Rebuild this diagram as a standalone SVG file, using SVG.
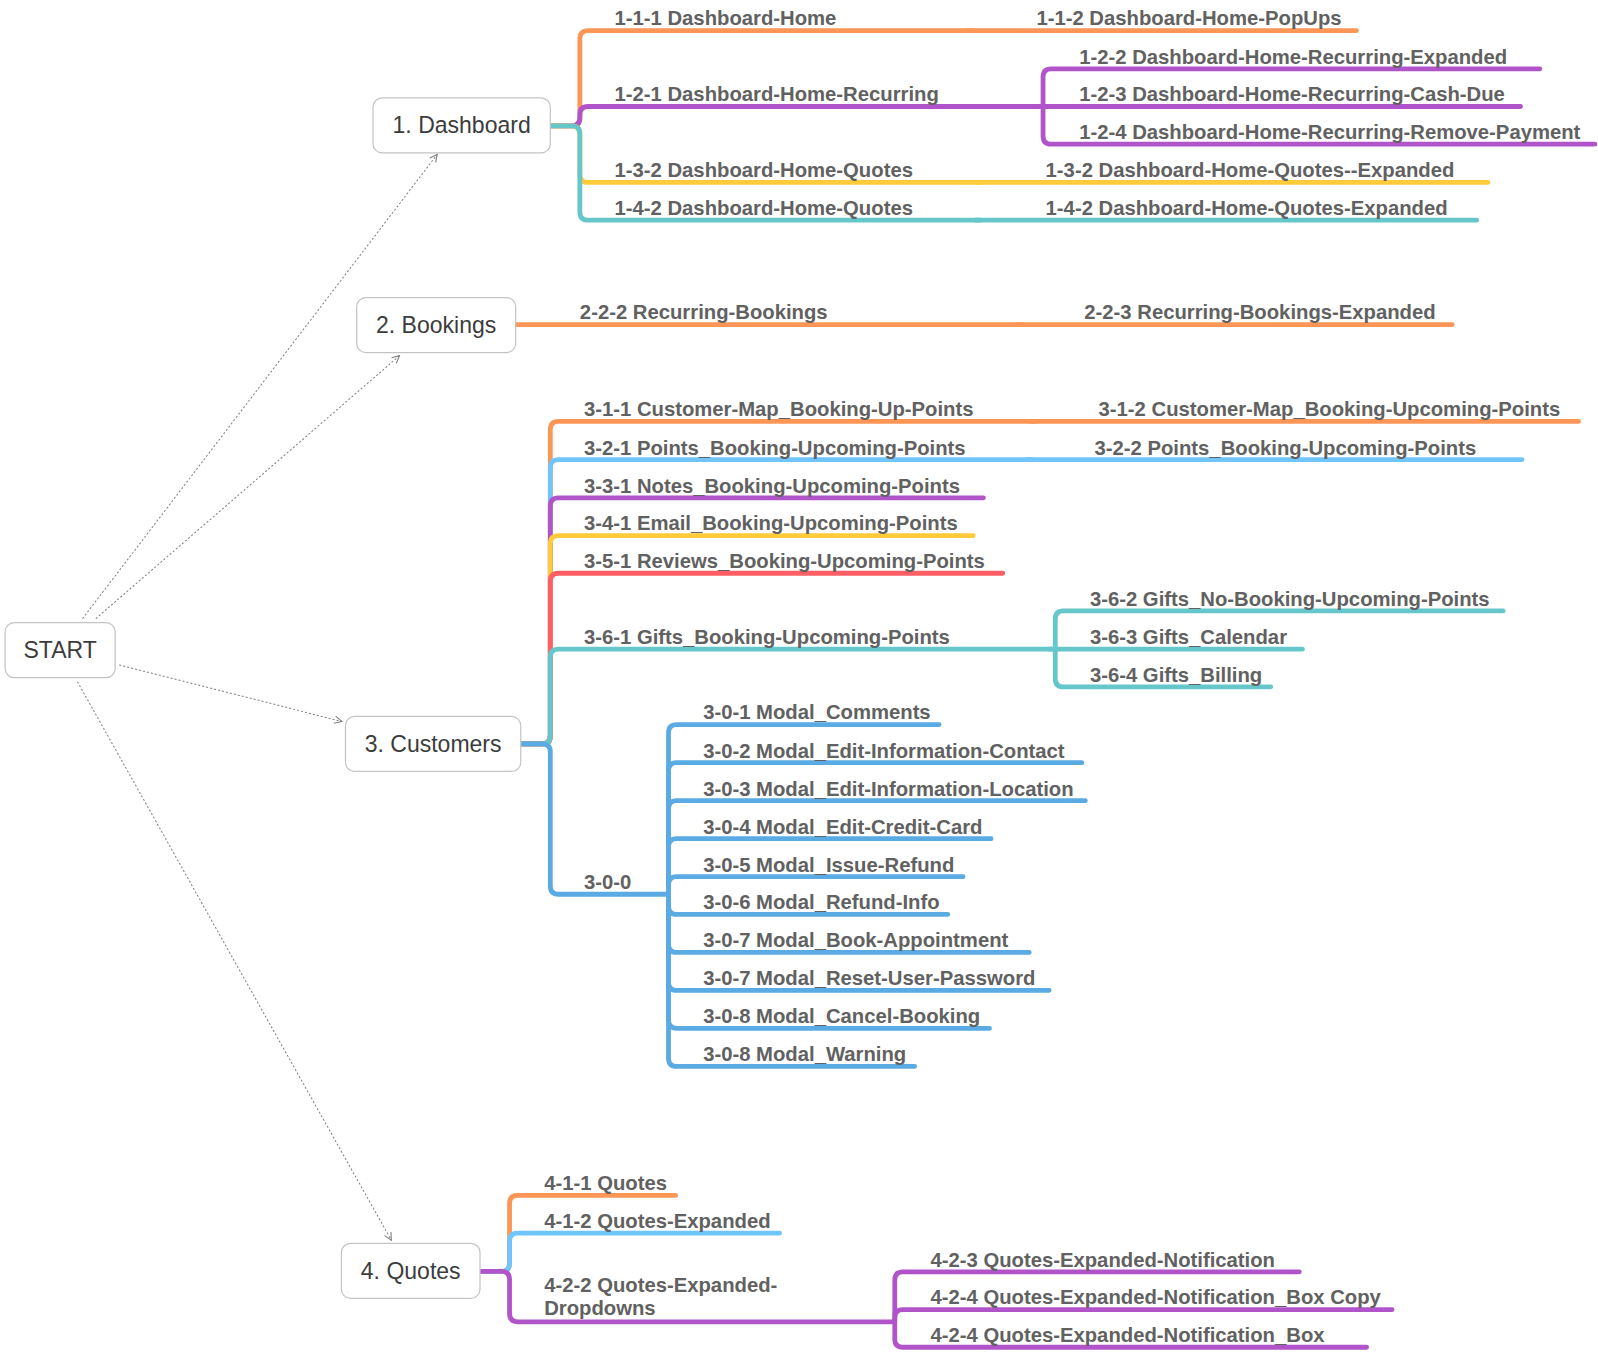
<svg xmlns="http://www.w3.org/2000/svg" width="1598" height="1352" viewBox="0 0 1598 1352">
  <defs>
    <style>
      .node rect { fill: #ffffff; stroke: #c4c4c4; stroke-width: 1.2; }
      .node text { font-family: "Liberation Sans", Arial, sans-serif; font-size: 22.6px; fill: #3c3c3c; text-anchor: middle; dominant-baseline: central; }
      .lbl { font-family: "Liberation Sans", Arial, sans-serif; font-size: 19.9px; font-weight: bold; fill: #616161; }
      .br path { fill: none; stroke-width: 4.7; stroke-linecap: round; stroke-linejoin: round; }
      .or { stroke: #FC9657; }
      .pu { stroke: #B154CA; }
      .ye { stroke: #FFCB3A; }
      .te { stroke: #66C7CB; }
      .lb { stroke: #70C5FD; }
      .re { stroke: #FE5F66; }
      .bl { stroke: #5AAAE3; }
      .dot { fill: none; stroke: #808080; stroke-width: 1; stroke-dasharray: 2 2; }
    </style>
    <marker id="open" viewBox="0 0 10 10" refX="9" refY="5" markerWidth="9" markerHeight="9" markerUnits="userSpaceOnUse" orient="auto">
      <path d="M1,1 L9,5 L1,9" fill="none" stroke="#808080" stroke-width="1.2"/>
    </marker>
  </defs>
  <rect width="1598" height="1352" fill="#ffffff"/>
  <g transform="scale(1.0191)">
    <!-- dotted links from START -->
    <g id="connectors">
      <path class="dot" d="M81,607 L429,151.5" marker-end="url(#open)"/>
      <path class="dot" d="M94,607 L392,349" marker-end="url(#open)"/>
      <path class="dot" d="M117,652.5 L335.5,708" marker-end="url(#open)"/>
      <path class="dot" d="M76,669 L384,1217" marker-end="url(#open)"/>
    </g>

    <!-- 1. Dashboard branches -->
    <g id="dashboard-branches" class="br">
      <path class="or" d="M540,123.5 H561 Q569,123.5 569,115.5 V38 Q569,30 577,30 H955"/>
      <path class="or" d="M950,30 H1331"/>
      <path class="pu" d="M540,123.5 H561 Q569,123.5 569,115.5 V112.5 Q569,104.5 577,104.5 H1023.5"/>
      <path class="pu" d="M1023.5,104.5 V75.5 Q1023.5,67.5 1031.5,67.5 H1511"/>
      <path class="pu" d="M1017,104.5 H1492"/>
      <path class="pu" d="M1023.5,104.5 V133.5 Q1023.5,141.5 1031.5,141.5 H1565"/>
      <path class="ye" d="M540,123.5 H561 Q569,123.5 569,131.5 V171 Q569,179 577,179 H963"/>
      <path class="ye" d="M958,179 H1460"/>
      <path class="te" d="M540,123.5 H561 Q569,123.5 569,131.5 V208 Q569,216 577,216 H962"/>
      <path class="te" d="M957,216 H1449"/>
    </g>

    <!-- 2. Bookings branches -->
    <g id="bookings-branches" class="br">
      <path class="or" d="M506,318.5 H1003"/>
      <path class="or" d="M998,318.5 H1425"/>
    </g>

    <!-- 3. Customers branches -->
    <g id="customers-branches" class="br">
      <path class="or" d="M511,730 H532 Q540,730 540,722 V421.5 Q540,413.5 548,413.5 H1016"/>
      <path class="or" d="M1011,413.5 H1549"/>
      <path class="lb" d="M511,730 H532 Q540,730 540,722 V459 Q540,451 548,451 H1012.5"/>
      <path class="lb" d="M1008,451 H1493.5"/>
      <path class="pu" d="M511,730 H532 Q540,730 540,722 V496.5 Q540,488.5 548,488.5 H965"/>
      <path class="ye" d="M511,730 H532 Q540,730 540,722 V533.5 Q540,525.5 548,525.5 H955"/>
      <path class="re" d="M511,730 H532 Q540,730 540,722 V570.5 Q540,562.5 548,562.5 H984"/>
      <path class="te" d="M511,730 H532 Q540,730 540,722 V645 Q540,637 548,637 H1035.5"/>
      <path class="te" d="M1035.5,637 V607.5 Q1035.5,599.5 1043.5,599.5 H1475"/>
      <path class="te" d="M1029,637 H1278"/>
      <path class="te" d="M1035.5,637 V666 Q1035.5,674 1043.5,674 H1247"/>
      <path class="bl" d="M511,730 H532 Q540,730 540,738 V869.5 Q540,877.5 548,877.5 H656"/>
      <path class="bl" d="M656,877.5 V719 Q656,711 664,711 H921.5"/>
      <path class="bl" d="M656,877.5 V756.4 Q656,748.4 664,748.4 H1061.5"/>
      <path class="bl" d="M656,877.5 V793.7 Q656,785.7 664,785.7 H1065"/>
      <path class="bl" d="M656,877.5 V831 Q656,823 664,823 H972.5"/>
      <path class="bl" d="M656,877.5 V868.2 Q656,860.2 664,860.2 H945"/>
      <path class="bl" d="M656,877.5 V889.3 Q656,897.3 664,897.3 H930"/>
      <path class="bl" d="M656,877.5 V926.6 Q656,934.6 664,934.6 H1010"/>
      <path class="bl" d="M656,877.5 V963.8 Q656,971.8 664,971.8 H1029.5"/>
      <path class="bl" d="M656,877.5 V1001 Q656,1009 664,1009 H971"/>
      <path class="bl" d="M656,877.5 V1038.3 Q656,1046.3 664,1046.3 H897.5"/>
    </g>

    <!-- 4. Quotes branches -->
    <g id="quotes-branches" class="br">
      <path class="or" d="M471,1247.5 H492 Q500,1247.5 500,1239.5 V1181 Q500,1173 508,1173 H663"/>
      <path class="lb" d="M471,1247.5 H492 Q500,1247.5 500,1239.5 V1218 Q500,1210 508,1210 H765"/>
      <path class="pu" d="M471,1247.5 H492 Q500,1247.5 500,1255.5 V1289 Q500,1297 508,1297 H878"/>
      <path class="pu" d="M878,1297 V1256 Q878,1248 886,1248 H1275"/>
      <path class="pu" d="M878,1297 V1293 Q878,1285 886,1285 H1366"/>
      <path class="pu" d="M878,1297 V1314 Q878,1322 886,1322 H1341"/>
    </g>

    <!-- main nodes -->
    <g id="node-start" class="node">
      <rect x="5" y="611" width="108" height="54" rx="9"/>
      <text x="59" y="638">START</text>
    </g>
    <g id="node-dashboard" class="node">
      <rect x="366" y="96" width="174" height="54" rx="9"/>
      <text x="453" y="123">1. Dashboard</text>
    </g>
    <g id="node-bookings" class="node">
      <rect x="350" y="292" width="156" height="54" rx="9"/>
      <text x="428" y="319">2. Bookings</text>
    </g>
    <g id="node-customers" class="node">
      <rect x="339" y="703" width="172" height="54" rx="9"/>
      <text x="425" y="730">3. Customers</text>
    </g>
    <g id="node-quotes" class="node">
      <rect x="335" y="1220" width="136" height="54" rx="9"/>
      <text x="403" y="1247">4. Quotes</text>
    </g>

    <!-- topic labels -->
    <g id="labels-dashboard" class="lbl">
      <text id="t-1-1-1" x="603" y="25">1-1-1 Dashboard-Home</text>
      <text id="t-1-1-2" x="1017" y="25">1-1-2 Dashboard-Home-PopUps</text>
      <text id="t-1-2-1" x="603" y="99.5">1-2-1 Dashboard-Home-Recurring</text>
      <text id="t-1-2-2" x="1059" y="62.5">1-2-2 Dashboard-Home-Recurring-Expanded</text>
      <text id="t-1-2-3" x="1059" y="99.5">1-2-3 Dashboard-Home-Recurring-Cash-Due</text>
      <text id="t-1-2-4" x="1059" y="136.5">1-2-4 Dashboard-Home-Recurring-Remove-Payment</text>
      <text id="t-1-3-2" x="603" y="174">1-3-2 Dashboard-Home-Quotes</text>
      <text id="t-1-3-2e" x="1026" y="174">1-3-2 Dashboard-Home-Quotes--Expanded</text>
      <text id="t-1-4-2" x="603" y="211">1-4-2 Dashboard-Home-Quotes</text>
      <text id="t-1-4-2e" x="1026" y="211">1-4-2 Dashboard-Home-Quotes-Expanded</text>
    </g>
    <g id="labels-bookings" class="lbl">
      <text id="t-2-2-2" x="569" y="313.5">2-2-2 Recurring-Bookings</text>
      <text id="t-2-2-3" x="1064" y="313.5">2-2-3 Recurring-Bookings-Expanded</text>
    </g>
    <g id="labels-customers" class="lbl">
      <text id="t-3-1-1" x="573" y="408.5">3-1-1 Customer-Map_Booking-Up-Points</text>
      <text id="t-3-1-2" x="1078" y="408.5">3-1-2 Customer-Map_Booking-Upcoming-Points</text>
      <text id="t-3-2-1" x="573" y="446">3-2-1 Points_Booking-Upcoming-Points</text>
      <text id="t-3-2-2" x="1074" y="446">3-2-2 Points_Booking-Upcoming-Points</text>
      <text id="t-3-3-1" x="573" y="483.5">3-3-1 Notes_Booking-Upcoming-Points</text>
      <text id="t-3-4-1" x="573" y="520.5">3-4-1 Email_Booking-Upcoming-Points</text>
      <text id="t-3-5-1" x="573" y="557.5">3-5-1 Reviews_Booking-Upcoming-Points</text>
      <text id="t-3-6-1" x="573" y="632">3-6-1 Gifts_Booking-Upcoming-Points</text>
      <text id="t-3-6-2" x="1069.5" y="594.5">3-6-2 Gifts_No-Booking-Upcoming-Points</text>
      <text id="t-3-6-3" x="1069.5" y="632">3-6-3 Gifts_Calendar</text>
      <text id="t-3-6-4" x="1069.5" y="669">3-6-4 Gifts_Billing</text>
      <text id="t-3-0-0" x="573" y="872.5">3-0-0</text>
      <text id="t-3-0-1" x="690" y="706">3-0-1 Modal_Comments</text>
      <text id="t-3-0-2" x="690" y="743.4">3-0-2 Modal_Edit-Information-Contact</text>
      <text id="t-3-0-3" x="690" y="780.7">3-0-3 Modal_Edit-Information-Location</text>
      <text id="t-3-0-4" x="690" y="818">3-0-4 Modal_Edit-Credit-Card</text>
      <text id="t-3-0-5" x="690" y="855.2">3-0-5 Modal_Issue-Refund</text>
      <text id="t-3-0-6" x="690" y="892.3">3-0-6 Modal_Refund-Info</text>
      <text id="t-3-0-7a" x="690" y="929.6">3-0-7 Modal_Book-Appointment</text>
      <text id="t-3-0-7b" x="690" y="966.8">3-0-7 Modal_Reset-User-Password</text>
      <text id="t-3-0-8a" x="690" y="1004">3-0-8 Modal_Cancel-Booking</text>
      <text id="t-3-0-8b" x="690" y="1041.3">3-0-8 Modal_Warning</text>
    </g>
    <g id="labels-quotes" class="lbl">
      <text id="t-4-1-1" x="534" y="1168">4-1-1 Quotes</text>
      <text id="t-4-1-2" x="534" y="1205">4-1-2 Quotes-Expanded</text>
      <text id="t-4-2-2" x="534" y="1267.5">4-2-2 Quotes-Expanded-<tspan x="534" y="1290.5">Dropdowns</tspan></text>
      <text id="t-4-2-3" x="913" y="1243">4-2-3 Quotes-Expanded-Notification</text>
      <text id="t-4-2-4a" x="913" y="1280">4-2-4 Quotes-Expanded-Notification_Box Copy</text>
      <text id="t-4-2-4b" x="913" y="1317">4-2-4 Quotes-Expanded-Notification_Box</text>
    </g>
  </g>
</svg>
